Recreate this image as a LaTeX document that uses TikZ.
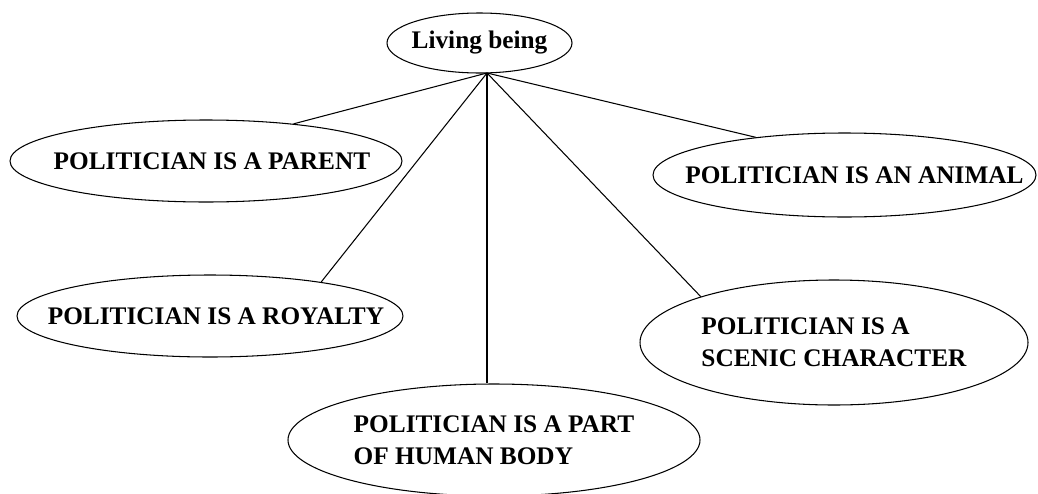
\documentclass[tikz,border=0pt]{standalone}
\usepackage{fontspec}
\setmainfont{Liberation Serif}
\usetikzlibrary{shapes.geometric}
\begin{document}
\begin{tikzpicture}[
    oval/.style={draw=black,ellipse,inner xsep=-1.2cm,inner ysep=-0.6cm,line width=0.6pt,
      align=left,font=\bfseries\fontsize{14.4}{18}\selectfont},
    link/.style={black,line width=0.6pt}]
    \useasboundingbox (0,0) rectangle (20.76,9.86);
    % Ellipses
    \node[oval,minimum width=3.70cm,minimum height=1.20cm] (living) at (9.59,9.00) {Living being};
    \node[oval,minimum width=7.84cm,minimum height=1.64cm] (parent) at (4.12,6.64) {\hspace*{0.24cm}POLITICIAN IS A PARENT};
    \node[oval,minimum width=7.66cm,minimum height=1.68cm] (animal) at (16.89,6.36) {\hspace*{0.4cm}POLITICIAN IS AN ANIMAL};
    \node[oval,minimum width=7.72cm,minimum height=1.64cm] (royalty) at (4.20,3.54) {\hspace*{0.24cm}POLITICIAN IS A ROYALTY};
    \node[oval,minimum width=7.76cm,minimum height=2.50cm] (scenic) at (16.68,3.01) {POLITICIAN IS A\\SCENIC CHARACTER};
    \node[oval,minimum width=8.24cm,minimum height=2.24cm] (body) at (9.88,1.06) {POLITICIAN IS A PART\\OF HUMAN BODY};
    \coordinate (hub) at (9.74,8.40);
    % Lines
    \draw[link] (hub) -- (parent.23);
    \draw[link] (hub) -- (animal.157);
    \draw[link] (hub) -- (royalty.17);
    \draw[link] (hub) -- (scenic.161);
    \draw[link] (hub) -- (hub |- body.north);
\end{tikzpicture}
\end{document}
